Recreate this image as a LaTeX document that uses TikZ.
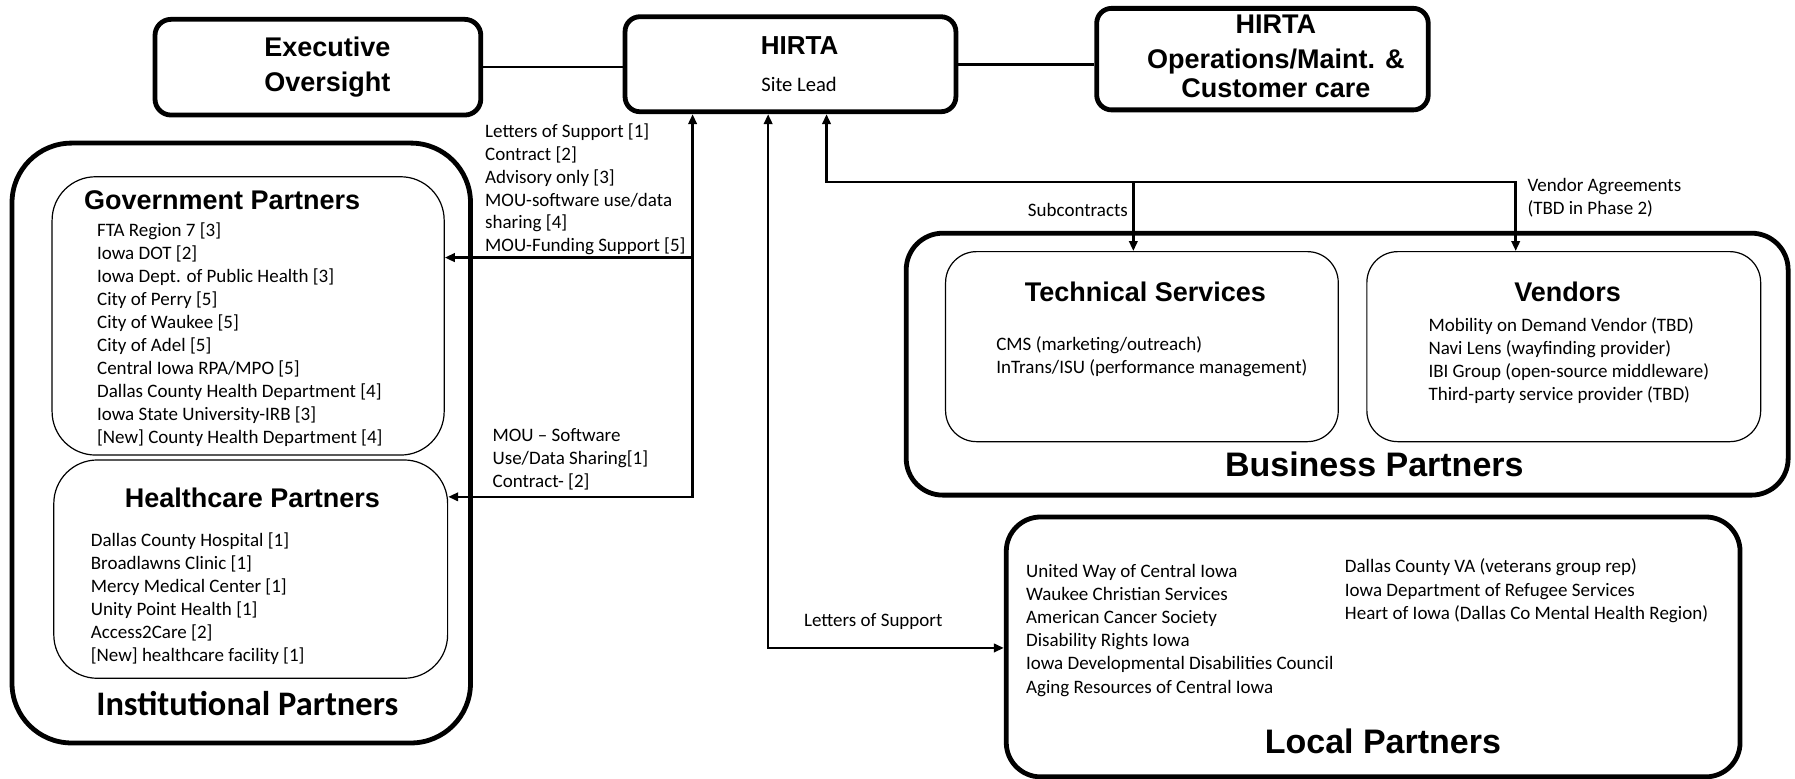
\documentclass[tikz,border=0pt]{standalone}
\usepackage{fontspec}
\setmainfont{Carlito}
\newfontfamily\hf{Liberation Sans}
\usetikzlibrary{arrows.meta}
\newcommand\uu{0.5724pt}
\begin{document}
\begin{tikzpicture}[x=0.5724pt, y=-0.5724pt,
  >={Triangle[length=5pt,width=4.2pt]},
  thickbox/.style={draw, line width=2.4pt, inner sep=0pt},
  thinbox/.style={draw, line width=0.6pt, inner sep=0pt},
  conn/.style={line width=1.3pt},
  hd/.style={font=\hf\bfseries\fontsize{13.5}{15}\selectfont, inner sep=0pt, anchor=base},
  bighd/.style={font=\hf\bfseries\fontsize{17}{20}\selectfont, inner sep=0pt, anchor=base},
  lst/.style={font=\fontsize{9.5}{11.5}\selectfont, inner sep=0pt, align=left, anchor=base west},
]
\useasboundingbox (0,0) rectangle (1568,680);

% ---------- boxes ----------
\node[thickbox, rounded corners=14*\uu, minimum width=284.6*\uu, minimum height=83.6*\uu] (exec) at (277.7,58.7) {};
\node[thickbox, rounded corners=13*\uu, minimum width=289*\uu, minimum height=83*\uu] (hirta) at (690.5,56.1) {};
\node[thickbox, rounded corners=13*\uu, minimum width=289.6*\uu, minimum height=88.7*\uu] (ops) at (1102.8,51.65) {};
\node[thickbox, rounded corners=52*\uu, minimum width=400.5*\uu, minimum height=524*\uu] (inst) at (210.75,387) {};
\node[thinbox, rounded corners=38*\uu, minimum width=342.5*\uu, minimum height=243.1*\uu] (gov) at (216.75,275.95) {};
\node[thinbox, rounded corners=38*\uu, minimum width=344*\uu, minimum height=190.7*\uu] (health) at (219,497.15) {};
\node[thickbox, rounded corners=32*\uu, minimum width=770.4*\uu, minimum height=228.8*\uu] (business) at (1176.8,318.1) {};
\node[thinbox, rounded corners=27*\uu, minimum width=343*\uu, minimum height=166*\uu] (tech) at (997.5,302.8) {};
\node[thinbox, rounded corners=27*\uu, minimum width=344*\uu, minimum height=166*\uu] (vend) at (1366,302.8) {};
\node[thickbox, rounded corners=30*\uu, minimum width=641*\uu, minimum height=227*\uu] (local) at (1199.5,565.1) {};

% ---------- headings ----------
\node[hd] (exec1) at (286,49.3) {Executive};
\node[hd] (exec2) at (286,79.9) {Oversight};
\node[hd, font=\hf\bfseries\fontsize{13}{15}\selectfont] (hirtat) at (698.5,47.2) {HIRTA};
\node[inner sep=0pt, anchor=base, font=\fontsize{10.3}{12}\selectfont] (site) at (698,79.5) {Site Lead};
\node[hd] (ops1) at (1114.5,29.1) {HIRTA};
\node[hd] (ops2) at (1114.5,59.5) {Operations/Maint. \&};
\node[hd] (ops3) at (1114.5,85) {Customer care};
\node[hd] (govt) at (194,183.2) {Government Partners};
\node[hd] (healtht) at (220.5,443.5) {Healthcare Partners};
\node[inner sep=0pt, anchor=base, font=\bfseries\fontsize{17.2}{20}\selectfont] (instt) at (216,624.7) {Institutional Partners};
\node[hd] (techt) at (1000.5,263.3) {Technical Services};
\node[hd] (vendt) at (1369.3,263.3) {Vendors};
\node[bighd] (busit) at (1200.5,416.6) {Business Partners};
\node[bighd] (localt) at (1208,658.6) {Local Partners};

% ---------- lists (anchor = baseline of last line) ----------
\node[lst] (govl) at (84.5,387.1) {FTA Region 7 [3]\\Iowa DOT [2]\\Iowa Dept. of Public Health [3]\\City of Perry [5]\\City of Waukee [5]\\City of Adel [5]\\Central Iowa RPA/MPO [5]\\Dallas County Health Department [4]\\Iowa State University-IRB [3]\\{[New]} County Health Department [4]};
\node[lst] (healthl) at (79,577.95) {Dallas County Hospital [1]\\Broadlawns Clinic [1]\\Mercy Medical Center [1]\\Unity Point Health [1]\\Access2Care [2]\\{[New]} healthcare facility [1]};
\node[lst] (techl) at (870,326) {CMS (marketing/outreach)\\InTrans/ISU (performance management)};
\node[lst, font=\fontsize{9.5}{11.6}\selectfont] (vendl) at (1247.5,350.1) {Mobility on Demand Vendor (TBD)\\Navi Lens (wayfinding provider)\\IBI Group (open-source middleware)\\Third-party service provider (TBD)};
\node[lst, font=\fontsize{9.5}{11.6}\selectfont] (locall1) at (896,605.45) {United Way of Central Iowa\\Waukee Christian Services\\American Cancer Society\\Disability Rights Iowa\\Iowa Developmental Disabilities Council\\Aging Resources of Central Iowa};
\node[lst, font=\fontsize{9.5}{11.6}\selectfont] (locall2) at (1174.5,541) {Dallas County VA (veterans group rep)\\Iowa Department of Refugee Services\\Heart of Iowa (Dallas Co Mental Health Region)};

% ---------- connector labels ----------
\node[lst, font=\fontsize{9.5}{11.36}\selectfont] (lab1) at (423.5,219.75) {Letters of Support [1]\\Contract [2]\\Advisory only [3]\\MOU-software use/data\\sharing [4]\\MOU-Funding Support [5]};
\node[lst] (lab2) at (430,426.1) {MOU -- Software\\Use/Data Sharing[1]\\Contract- [2]};
\node[lst, anchor=base east] (lab3) at (985.6,189) {Subcontracts};
\node[lst] (lab4) at (1334,187.6) {Vendor Agreements\\(TBD in Phase 2)};
\node[lst] (lab5) at (702,547.5) {Letters of Support};

% ---------- connectors ----------
\draw[conn] (exec.east) -- (exec.east -| hirta.west);
\draw[conn] (hirta.east) -- (hirta.east -| ops.west);

\coordinate (jg) at (605,225);
\coordinate (jh) at (605,434);
\draw[conn,<->] (health.east |- jh) -- (jh) -- (jh |- hirta.south);
\draw[conn,->] (jg) -- (gov.east |- jg);

\coordinate (jl) at (671,566);
\draw[conn,<->] (jl |- hirta.south) -- (jl) -- (local.west |- jl);

\coordinate (jb) at (722,159);
\coordinate (js) at (990,159);
\coordinate (jv) at (1324,159);
\draw[conn,<->] (jb |- hirta.south) -- (jb) -- (jv) -- (jv |- vend.north);
\draw[conn,->] (js) -- (js |- tech.north);
\end{tikzpicture}
\end{document}
